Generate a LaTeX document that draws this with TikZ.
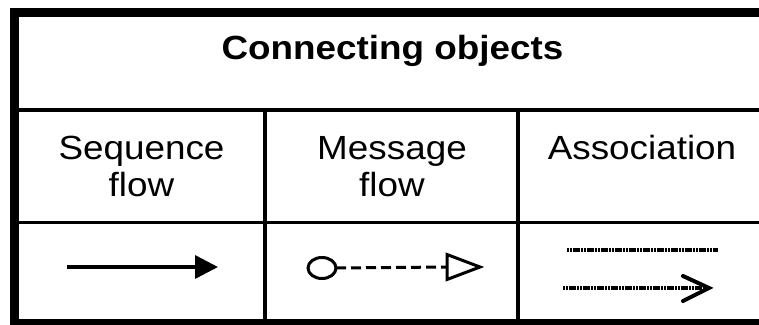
\documentclass[tikz,border=0pt]{standalone}
\usepackage{fontspec}
\setmainfont{Liberation Sans}
\usetikzlibrary{arrows.meta}
\begin{document}
\begin{tikzpicture}[x=1pt,y=-1pt,
  frame/.style={line width=9pt},
  grid/.style={line width=3.5pt},
  label/.style={anchor=base, inner sep=0pt, font=\fontsize{33.5}{37}\selectfont,
    xscale=1.1, transform shape, align=center},
  title/.style={label, font=\fontsize{33.5}{37}\selectfont\bfseries},
  seqline/.style={line width=3.5pt, -{Triangle[length=23pt,width=23pt]}},
  msgline/.style={line width=3pt, dash pattern=on 10pt off 5pt},
  msgshape/.style={line width=3pt},
  assocline/.style={line width=4pt, dash pattern=on 2.2pt off 0.6pt},
  assochead/.style={line width=4pt, line cap=round, line join=miter}]
\useasboundingbox (0,0) rectangle (759,324);
\clip (0,0) rectangle (759,324);

% outer frame (continues past the right edge)
\draw[frame] (800,12.5) -- (14.5,12.5) -- (14.5,323.5) -- (800,323.5);

% table rules
\draw[grid] (19,110) -- (800,110);
\draw[line width=3pt] (19,222) -- (800,222);
\draw[grid] (265,110) -- (265,319);
\draw[grid] (518,110) -- (518,319);

% headings (two-line labels sit on the baseline of their last line)
\node[title] (head) at (392.5,59) {Connecting objects};
\node[label] (seq) at (141.5,196) {Sequence\\flow};
\node[label] (msg) at (392,196) {Message\\flow};
\node[label] (assoc) at (642,159) {Association};

% sequence flow
\coordinate (s1) at (67,267);
\coordinate (s2) at (218,267);
\draw[seqline] (s1) -- (s2);

% message flow: start circle, dashed line, open triangle
\coordinate (mc) at (322,268);
\draw[msgshape] (mc) ellipse [x radius=14, y radius=10.5];
\coordinate (m1) at (336,268);
\coordinate (m2) at (447,267);
\draw[msgline] (m1) -- (m2);
\draw[msgshape, line join=miter] (447,254.5) -- (480,267) -- (447,279.5) -- cycle;

% association
\coordinate (a1) at (567,250);
\coordinate (a2) at (718,250);
\draw[assocline] (a1) -- (a2);
\coordinate (b1) at (563,288);
\coordinate (b2) at (708,288);
\draw[assocline] (b1) -- (b2);
\draw[assochead] (683,276) -- (709,288) -- (683,301);
\end{tikzpicture}
\end{document}
